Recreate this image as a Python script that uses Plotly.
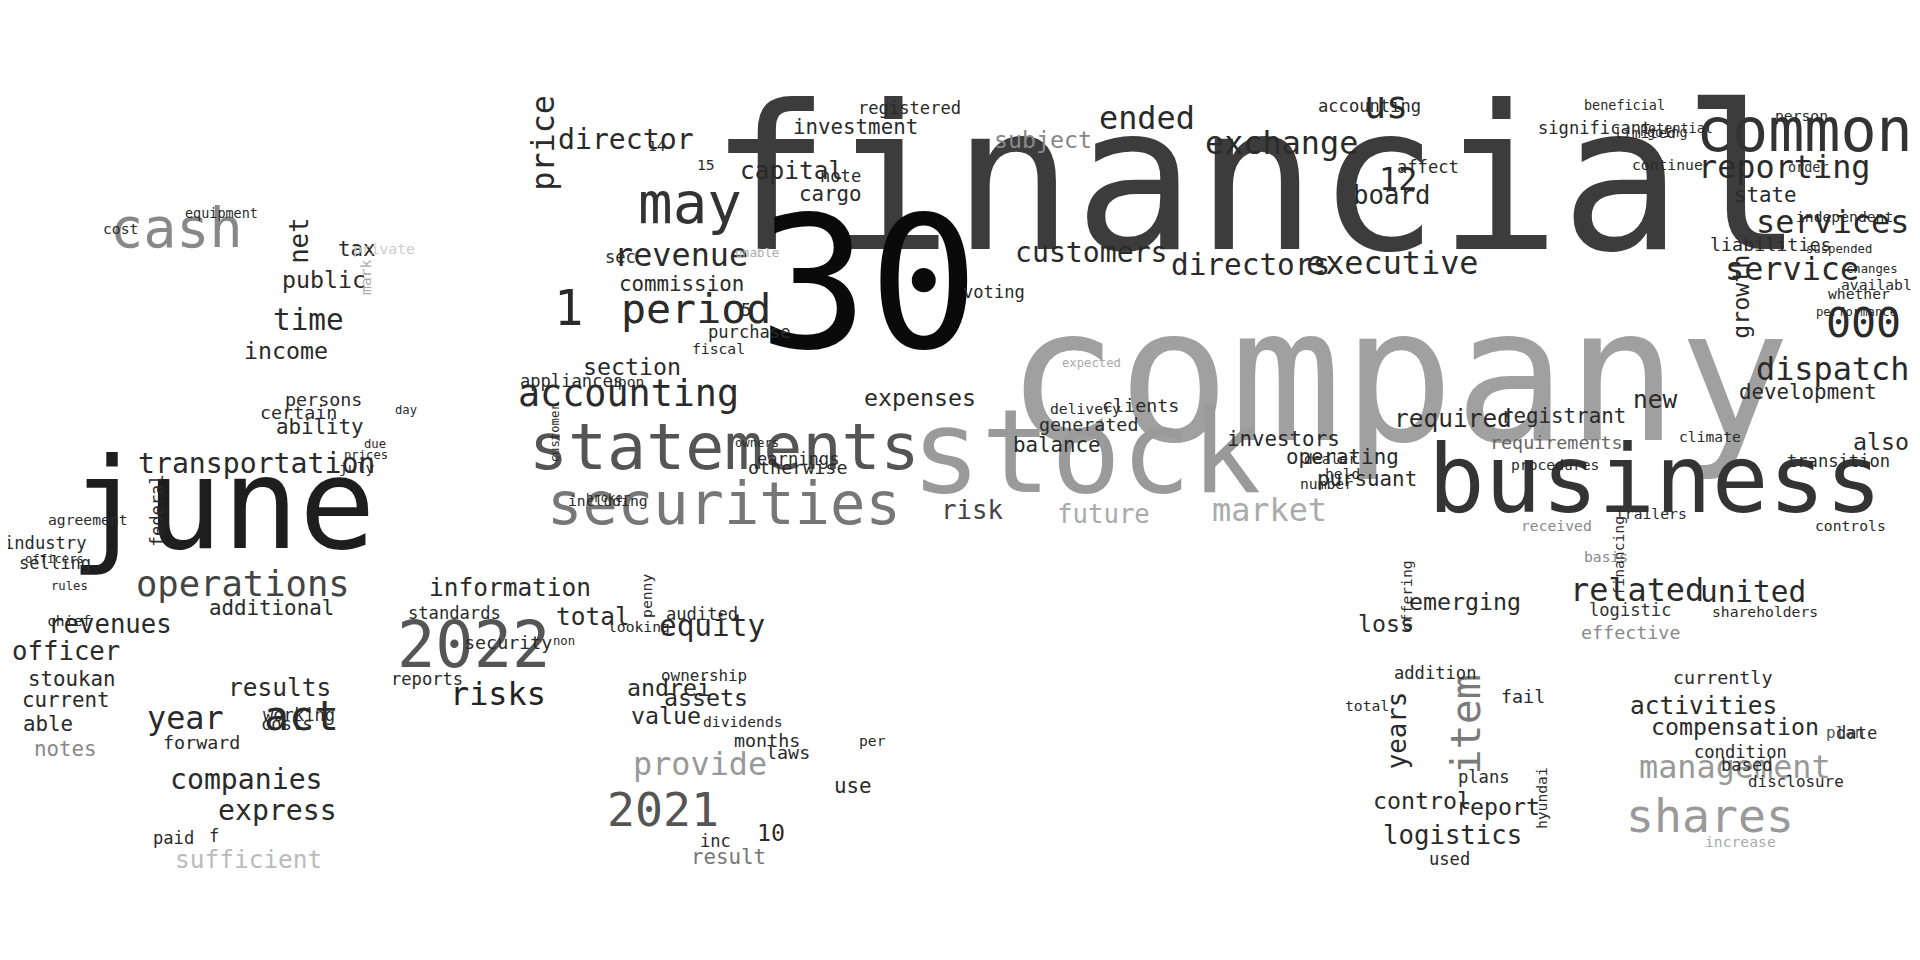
import plotly.graph_objects as go

# word cloud (image coords of a 1568x784 view)
words = ["financial", "company", "30", "stock", "business", "june", "statements", "securities",
         "common", "cash", "may", "2022", "2021", "operations", "shares", "management", "item",
         "period", "accounting", "1", "reporting", "services", "service", "000", "dispatch",
         "exchange", "ended", "us", "executive", "directors", "customers", "12", "board",
         "revenue", "director", "price", "transportation", "time", "income", "net", "public", "tax",
         "act", "year", "results", "companies", "express", "revenues", "officer", "stoukan",
         "information", "risks", "provide", "assets", "equity", "total", "value", "related",
         "united", "logistics", "years", "activities", "compensation", "report", "control", "loss",
         "emerging", "market", "future", "risk", "balance", "expenses", "investors", "required",
         "registrant", "new", "requirements", "operating", "pursuant", "subject", "investment",
         "capital", "cargo", "section", "commission", "growth", "state", "liabilities",
         "development", "also", "ability", "certain", "persons", "additional", "federal",
         "industry", "selling", "current", "able", "notes", "forward", "costs", "f", "paid",
         "sufficient", "working", "standards", "reports", "security", "audited", "penny",
         "ownership", "dividends", "months", "inc", "result", "10", "andrei", "laws", "per",
         "use", "shareholders", "logistic", "effective", "currently", "plan", "date", "condition",
         "disclosure", "based", "increase", "used", "addition", "fail", "plans", "hyundai",
         "clients", "delivery", "generated", "voting", "purchase", "fiscal", "5", "earnings",
         "otherwise", "appliances", "note", "sec", "15", "14", "registered", "accounting",
         "affect", "significant", "person", "independent", "transition", "dealer", "held",
         "number", "climate", "procedures", "controls", "received", "trailers", "basis",
         "financing", "offering", "rules", "chief", "officers", "agreement", "prices", "july",
         "equipment", "cost", "private", "mark", "customer", "owners", "unable", "expected",
         "total", "looking", "non", "broker", "including", "upon", "whether", "available",
         "continue", "beneficial", "limited", "going", "potential", "order", "suspended",
         "performance", "changes", "day", "due", "term", "sole", "annual", "work", "amounts"]
xs = [1020, 1135, 703, 880, 1345, 175, 585, 585, 1467, 138, 557, 380, 535, 192, 1390, 1410, 1190,
      562, 507, 458, 1450, 1490, 1457, 1515, 1490, 1040, 930, 1125, 1130, 1015, 885, 1135, 1130,
      550, 505, 437, 203, 245, 227, 237, 258, 285, 240, 145, 222, 195, 220, 83, 47, 52,
      410, 400, 565, 570, 575, 478, 537, 1330, 1425, 1180, 1135, 1385, 1410, 1217, 1155, 1125,
      1190, 1030, 895, 787, 857, 745, 1042, 1180, 1270, 1345, 1265, 1090, 1110, 845, 692,
      640, 672, 510, 550, 1415, 1435, 1440, 1470, 1530, 255, 237, 258, 215, 122,
      30, 38, 47, 33, 47, 158, 228, 168, 135, 196, 238, 365, 342, 408, 567, 522,
      568, 600, 620, 578, 588, 623, 540, 637, 706, 690, 1435, 1325, 1325, 1400, 1500, 1510, 1415,
      1460, 1420, 1415, 1177, 1165, 1237, 1205, 1253, 925, 880, 882, 805, 605, 580, 603, 645,
      645, 460, 680, 500, 570, 530, 736, 1112, 1160, 1296, 1465, 1500, 1495, 1080,
      1090, 1077, 1390, 1263, 1505, 1265, 1342, 1305, 1315, 1142, 50, 50, 38, 65, 292,
      285, 174, 92, 307, 292, 447, 612, 612, 885, 1110, 515, 454, 490, 490, 505,
      1512, 1530, 1355, 1320, 1337, 1355, 1363, 1470, 1495, 1510, 1522, 325, 300, 522, 548]
ys = [140, 300, 225, 362, 385, 405, 358, 405, 100, 180, 160, 520, 655, 470, 660, 620, 585,
      245, 315, 245, 130, 175, 213, 257, 295, 110, 90, 80, 208, 210, 200, 140, 153,
      202, 107, 110, 372, 255, 280, 190, 222, 197, 578, 580, 555, 630, 655, 503, 525, 548,
      473, 560, 617, 563, 505, 497, 578, 475, 477, 675, 590, 570, 587, 652, 647, 503,
      485, 410, 413, 410, 357, 318, 352, 335, 333, 320, 355, 367, 385, 107, 97,
      133, 152, 293, 225, 236, 153, 193, 314, 354, 342, 330, 320, 490, 410,
      437, 453, 565, 585, 605, 600, 585, 676, 678, 695, 577, 494, 548, 518, 495, 480,
      545, 583, 598, 680, 693, 673, 555, 608, 598, 635, 493, 492, 510, 547, 592, 592, 608,
      632, 618, 681, 695, 543, 562, 628, 645, 325, 327, 340, 232, 265, 278, 247, 368,
      375, 305, 137, 203, 128, 112, 82, 80, 130, 98, 88, 170, 370, 368, 380,
      388, 350, 373, 423, 423, 413, 448, 447, 480, 472, 500, 450, 418, 365, 375, 168,
      180, 196, 220, 347, 355, 200, 290, 570, 505, 517, 400, 402, 305, 233, 226, 128, 80,
      102, 102, 98, 130, 197, 248, 213, 328, 356, 385, 360, 373, 390, 402, 602, 588, 598, 613]
sizes = [165, 152, 150, 95, 77, 104, 53, 48, 49, 45, 47, 52, 38, 29, 38, 26, 34, 34, 30, 40,
         26, 26, 26, 34, 26, 26, 26, 30, 26, 24, 23, 26, 21, 26, 23, 26, 23, 24, 19, 21, 19, 17,
         34, 26, 20, 23, 23, 21, 21, 17, 20, 26, 26, 19, 24, 20, 19, 26, 24, 21, 21, 20, 19,
         19, 19, 19, 19, 26, 21, 21, 17, 19, 17, 20, 17, 20, 15, 17, 17, 19, 17, 20, 17,
         19, 17, 19, 17, 15, 17, 19, 17, 15, 15, 17, 14, 14, 14, 17, 17, 17, 15, 14, 14, 14,
         20, 14, 14, 14, 15, 14, 12, 13, 12, 15, 14, 17, 19, 19, 15, 12, 17, 12, 14, 15, 15,
         13, 14, 14, 13, 14, 12, 14, 14, 15, 14, 12, 15, 12, 15, 14, 14, 12, 14, 14, 15,
         14, 14, 14, 12, 12, 14, 14, 14, 14, 12, 12, 14, 12, 12, 12, 12, 12, 12, 12, 12, 12,
         12, 12, 10, 12, 10, 12, 10, 12, 11, 12, 12, 12, 10, 10, 10, 10, 12, 12, 10, 10,
         12, 12, 12, 12, 12, 11, 12, 11, 11, 11, 10, 10, 10, 10, 10]
colors = ["#3c3c3c", "#a0a0a0", "#0a0a0a", "#9a9a9a", "#343434", "#1e1e1e", "#555555", "#777777",
          "#333333", "#888888", "#333333", "#555555", "#555555", "#444444", "#9a9a9a", "#999999",
          "#7a7a7a"] + ["#2a2a2a"] * 34 + ["#222222", "#999999"] + ["#2a2a2a"] * 14 + \
         ["#aaaaaa", "#aaaaaa", "#444444"] + ["#2a2a2a"] * 9 + ["#888888"] + ["#2a2a2a"] * 30
angles = {"item": -90, "price": -90, "net": -90, "growth": -90, "years": -90, "federal": -90,
          "penny": -90, "hyundai": -90, "customer": -90, "mark": -90, "offering": -90,
          "financing": -90}
colors += ["#2a2a2a"] * (len(words) - len(colors))
light = {"sufficient": "#bbbbbb", "notes": "#888888", "private": "#cccccc", "unable": "#aaaaaa",
         "expected": "#aaaaaa", "increase": "#aaaaaa", "sole": "#999999", "requirements": "#666666",
         "logistic": "#333333", "received": "#888888", "basis": "#888888", "result": "#777777",
         "effective": "#888888", "plan": "#555555", "mark": "#aaaaaa"}

scale = 1920 / 1568
fig = go.Figure()
fig.add_trace(go.Scatter(x=[0, 1568], y=[0, 784], mode="markers", marker=dict(opacity=0),
                         hoverinfo="skip", showlegend=False))
for w, x, y, s, c in zip(words, xs, ys, sizes, colors):
    fig.add_annotation(x=x, y=y, text=w, showarrow=False, textangle=angles.get(w, 0),
                       font=dict(family="DejaVu Sans Mono", size=s * scale, color=light.get(w, c)))
fig.update_xaxes(range=[0, 1568], visible=False)
fig.update_yaxes(range=[784, 0], visible=False)
fig.update_layout(width=1920, height=960, margin=dict(l=0, r=0, t=0, b=0),
                  plot_bgcolor="white", paper_bgcolor="white")
fig.write_html("out.html")
